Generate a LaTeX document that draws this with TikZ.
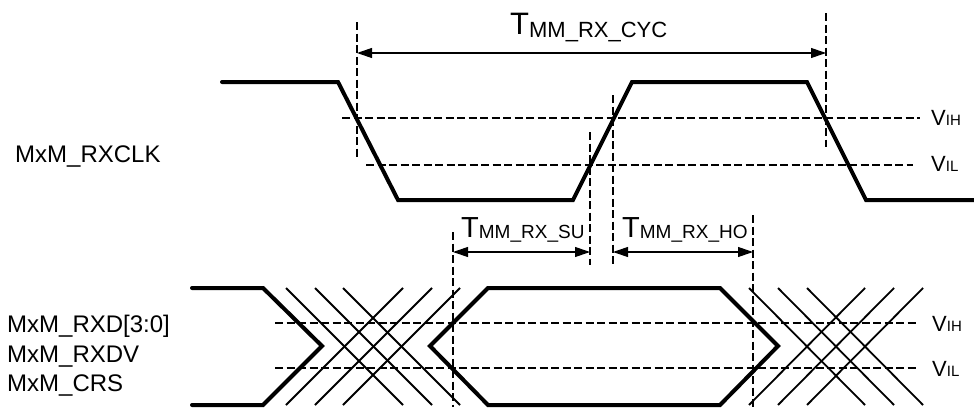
\documentclass[tikz,border=0pt]{standalone}
\usepackage{fontspec}
\setmainfont{Liberation Sans}
\usetikzlibrary{arrows.meta}
\tikzset{
  wave/.style={line width=4pt, line cap=round, line join=miter},
  xline/.style={line width=1.8pt},
  dline/.style={line width=2.2pt, dash pattern=on 8pt off 3.5pt},
  dimarrow/.style={line width=1.1pt, {Triangle[length=15pt,width=10pt]}-{Triangle[length=15pt,width=10pt]}},
  lbl/.style={anchor=base west, inner sep=0pt, font=\fontsize{24}{28}\selectfont},
}
\newcommand{\TsubBig}[1]{\fontsize{31}{31}\selectfont T\raisebox{-3pt}{\fontsize{22}{22}\selectfont #1}}
\newcommand{\TsubSmall}[1]{\fontsize{29}{29}\selectfont T\raisebox{-1pt}{\fontsize{19}{19}\selectfont #1}}
\newcommand{\Vsub}[1]{\fontsize{22}{22}\selectfont V{\fontsize{15}{15}\selectfont #1}}
\begin{document}
\begin{tikzpicture}[x=1pt,y=-1pt]
\useasboundingbox (0,0) rectangle (974,407);
\fill[white] (0,0) rectangle (974,407);

% signal names
\node[lbl] (nclk) at (15,162) {MxM\_RXCLK};
\node[lbl] (nrxd) at (7,332) {MxM\_RXD[3:0]};
\node[lbl] (nrxdv) at (7,362) {MxM\_RXDV};
\node[lbl] (ncrs) at (7,391) {MxM\_CRS};

% clock threshold lines
\draw[dline] (342,118) -- (920,118);
\draw[dline] (366,165) -- (913,165);
\node[anchor=base west, inner sep=0pt] (vih1) at (931,125) {\Vsub{IH}};
\node[anchor=base west, inner sep=0pt] (vil1) at (931,171) {\Vsub{IL}};

% clock waveform
\draw[wave] (222,82) -- (338,82) -- (398,200) -- (573,200) -- (632,82) -- (807,82) -- (866,200) -- (974,200);

% vertical dashed markers
\draw[dline] (357,22) -- (357,157);
\draw[dline] (826,13) -- (826,147);
\draw[dline] (590,132) -- (590,265);
\draw[dline] (613,95) -- (613,265);
\draw[dline] (453,232) -- (453,407);
\draw[dline] (753,215) -- (753,407);

% cycle arrow
\coordinate (cycL) at (357,53);
\coordinate (cycR) at (826,53);
\draw[dimarrow] (cycL) -- (cycR);
\node[anchor=base west, inner sep=0pt] (tcyc) at (510,34) {\TsubBig{MM\_RX\_CYC}};

% setup / hold arrows
\coordinate (suL) at (453,252);
\coordinate (suR) at (590,252);
\coordinate (hoL) at (613,252);
\coordinate (hoR) at (753,252);
\draw[dimarrow] (suL) -- (suR);
\draw[dimarrow] (hoL) -- (hoR);
\node[anchor=base west, inner sep=0pt] (tsu) at (461,237) {\TsubSmall{MM\_RX\_SU}};
\node[anchor=base west, inner sep=0pt] (tho) at (622,237) {\TsubSmall{MM\_RX\_HO}};

% data threshold lines
\draw[dline] (275,323) -- (918,323);
\draw[dline] (275,368) -- (918,368);
\node[anchor=base west, inner sep=0pt] (vih2) at (932,331) {\Vsub{IH}};
\node[anchor=base west, inner sep=0pt] (vil2) at (932,376) {\Vsub{IL}};

% data waveform
\draw[wave] (192,288) -- (263,288) -- (322,346) -- (263,405) -- (192,405);
\draw[wave] (488,288) -- (720,288) -- (778,346) -- (720,405) -- (488,405) -- (430,346) -- cycle;

% crossing lines (left)
\foreach \a in {286,315,343} {
  \draw[xline] (\a,288) -- ({\a+117},405);
  \draw[xline] (\a,405) -- ({\a+117},288);
}
% crossing lines (right)
\foreach \a in {749,778,807} {
  \draw[xline] (\a,288) -- ({\a+116},405);
  \draw[xline] (\a,405) -- ({\a+116},288);
}
\end{tikzpicture}
\end{document}
